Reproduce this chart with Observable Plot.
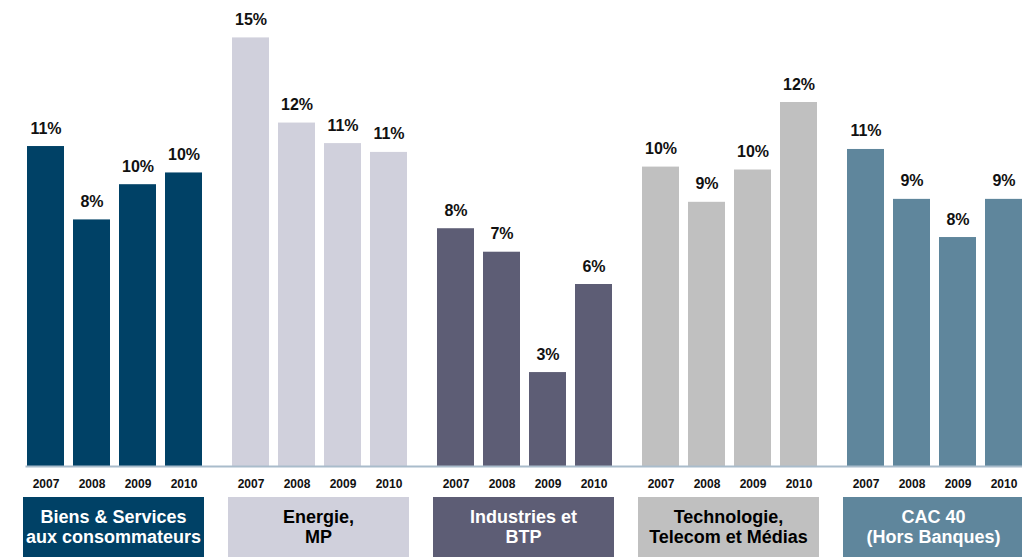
<!DOCTYPE html>
<html>
<head>
<meta charset="utf-8">
<script src="https://cdn.jsdelivr.net/npm/d3@7"></script>
<script src="https://cdn.jsdelivr.net/npm/@observablehq/plot@0.6"></script>
<style>
  html, body { margin: 0; padding: 0; background: #fff; overflow: hidden; }
  #wrap { position: relative; width: 1022px; height: 557px; overflow: hidden;
          font-family: "Liberation Sans Narrow", "Arial Narrow", "Liberation Sans", Arial, sans-serif; }
  #boxes { position: absolute; left: 0; top: 497px; width: 1022px; height: 60px; }
  .box { position: absolute; top: 0; height: 60px; display: flex; align-items: center;
         justify-content: center; text-align: center; font-weight: bold; font-size: 18px; line-height: 20px; }
</style>
</head>
<body>
<div id="wrap">
  <div id="chart"></div>
  <div id="boxes"></div>
</div>
<script>
// Data
const categories = ["Biens", "Energie", "Industries", "Technologie", "CAC40"];
const categoryLabels = [
  ["Biens & Services", "aux consommateurs"],
  ["Energie,", "MP"],
  ["Industries et", "BTP"],
  ["Technologie,", "Telecom et Médias"],
  ["CAC 40", "(Hors Banques)"]
];
const years = ["2007", "2008", "2009", "2010"];
const biens = [10.9, 8.4, 9.6, 10.0];
const energie = [14.6, 11.7, 11.0, 10.7];
const industries = [8.1, 7.3, 3.2, 6.2];
const technologie = [10.2, 9.0, 10.1, 12.4];
const cac40 = [10.8, 9.1, 7.8, 9.1];

// Styles
const barColors = ["#004166", "#d0d0dc", "#5d5d75", "#c0c0c0", "#5f869c"];
const labelColors = ["#ffffff", "#000000", "#ffffff", "#000000", "#ffffff"];

const series = [biens, energie, industries, technologie, cac40];
const rows = categories.flatMap((c, i) =>
  years.map((y, j) => ({cat: c, year: y, value: series[i][j]}))
);

const plot = Plot.plot({
  width: 1022,
  height: 497,
  marginLeft: 9,
  marginRight: 0,
  marginTop: 11,
  marginBottom: 31,
  style: {
    fontFamily: '"Liberation Sans Narrow", "Arial Narrow", "Liberation Sans", Arial, sans-serif',
    background: "#fff",
    overflow: "hidden"
  },
  fx: {domain: categories, range: [24, 1025], paddingInner: 0.1349, paddingOuter: 0, axis: null},
  x: {domain: years, paddingInner: 0.186, paddingOuter: 0},
  y: {domain: [0, 15.5], axis: null},
  color: {domain: categories, range: barColors},
  marks: [
    Plot.barY(rows, {fx: "cat", x: "year", y: "value", fill: "cat"}),
    Plot.text(rows, {
      fx: "cat", x: "year", y: "value",
      text: d => Math.round(d.value) + "%",
      lineAnchor: "bottom", dy: -13,
      fontWeight: "bold", fontSize: 16, fill: "#111"
    }),
    Plot.frame({facet: "super", anchor: "bottom", stroke: "#a9bccb", strokeWidth: 2}),
    Plot.axisX({tickSize: 0, tickPadding: 13, label: null, fontWeight: "bold", fontSize: 12, fill: "#111"})
  ]
});
document.getElementById("chart").appendChild(plot);

// Category boxes positioned from the plot's fx scale
const fx = plot.scale("fx");
const boxes = document.getElementById("boxes");
categories.forEach((c, i) => {
  const div = document.createElement("div");
  div.className = "box";
  const x0 = fx.apply(c);
  div.style.left = (x0 - 3) + "px";
  div.style.width = (fx.bandwidth + 4) + "px";
  div.style.background = barColors[i];
  div.style.color = labelColors[i];
  div.innerHTML = categoryLabels[i].join("<br>");
  boxes.appendChild(div);
});
</script>
</body>
</html>
